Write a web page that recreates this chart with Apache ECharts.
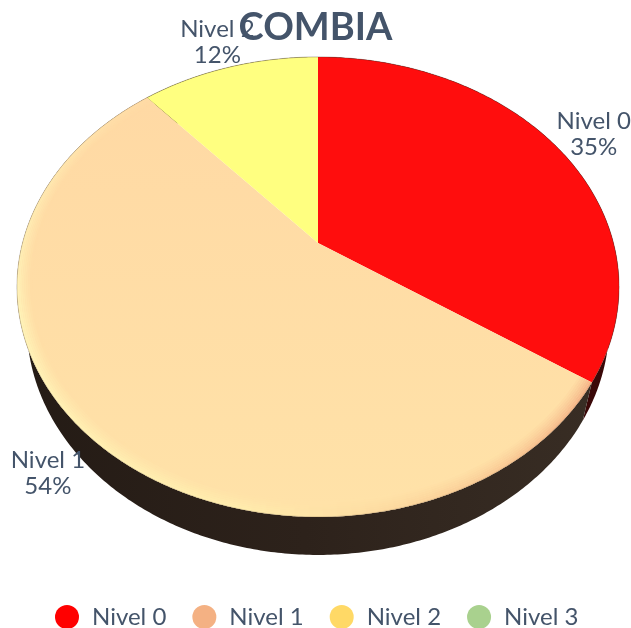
<!DOCTYPE html>
<html>
<head>
<meta charset="utf-8">
<style>
  html, body { margin: 0; padding: 0; background: #fff; overflow: hidden; }
  #chart { width: 631px; height: 628px; }
</style>
<script src="https://cdn.jsdelivr.net/npm/echarts@6/dist/echarts.min.js"></script>
</head>
<body>
<div id="chart"></div>
<script>
var chartTitle = "COMBIA";
var levels = ["Nivel 0", "Nivel 1", "Nivel 2", "Nivel 3"];
var shares = [34.5, 54, 11.5, 0];
var legendColors = ["#ff0000", "#f4b183", "#ffd966", "#a9d18e"];
var topColors = ["#ff0d0d", "#ffdba6", "#ffff80", "#a9d18e"];

var textColor = "#44546a";
var fontName = "Lato";

// perspective tilt of the disc, fitted to the picture
var apex = { x: 318, y: 243 };
var radX = 295.5;
var radY = 221.6;
var tilt = 0.191;
var depth = 38;
var sideShrink = 0.967;
var labelOffset = [[36, -14], [-42, 36], [-12, -25], [0, 0]];

// rim light of the big slice, by angle in degrees
var rimStops = [
  [124, [240, 165, 125]],
  [160, [250, 205, 150]],
  [190, [255, 240, 175]],
  [250, [255, 250, 190]],
  [285, [255, 238, 180]],
  [319, [255, 219, 166]]
];

function project(angle, r) {
  var x = Math.sin(angle) * r;
  var y = -Math.cos(angle) * r;
  var d = 1 - tilt * y;
  return [apex.x + radX * x / d, apex.y + radY * y / d];
}

function toSide(p) {
  return [apex.x + (p[0] - apex.x) * sideShrink, p[1] + depth];
}

function arc(a0, a1, r) {
  var pts = [];
  var n = Math.max(2, Math.ceil((a1 - a0) / 0.01));
  for (var i = 0; i <= n; i++) {
    pts.push(project(a0 + (a1 - a0) * i / n, r));
  }
  return pts;
}

function sliceAngles(idx) {
  var before = 0;
  for (var i = 0; i < idx; i++) before += shares[i];
  return [before / 100 * Math.PI * 2, (before + shares[idx]) / 100 * Math.PI * 2];
}

// same ramp as the body gradient of the big slice, so the bevel fades out into it
function bodyColor(y) {
  var t = Math.min(1, Math.max(0, (y - 98) / 419));
  return [255, 217 + 9 * t, 164 + 4 * t];
}

function rimColor(deg, fade, y) {
  var c = rimStops[rimStops.length - 1][1];
  for (var i = 0; i < rimStops.length - 1; i++) {
    var s0 = rimStops[i], s1 = rimStops[i + 1];
    if (deg <= s1[0]) {
      var t = Math.max(0, (deg - s0[0]) / (s1[0] - s0[0]));
      c = s0[1].map(function (v, j) { return v + (s1[1][j] - v) * t; });
      break;
    }
  }
  var base = bodyColor(y);
  return "rgb(" + c.map(function (v, j) { return Math.round(v + (base[j] - v) * fade); }).join(",") + ")";
}

function renderSide(params, api) {
  var idx = api.value(0);
  var a = sliceAngles(idx);
  var rim = arc(a[0], a[1], 1);
  var fill = idx === 0 ? "#3a0808" : new echarts.graphic.LinearGradient(0, 0, 1, 0, [
    { offset: 0, color: "#241b15" },
    { offset: 0.5, color: "#2d221b" },
    { offset: 1, color: "#382d24" }
  ]);
  return {
    type: "polygon",
    shape: { points: rim.concat(rim.map(toSide).reverse()) },
    style: { fill: fill }
  };
}

function renderTop(params, api) {
  var idx = api.value(0);
  var a = sliceAngles(idx);
  var kids = [];
  var center = [project(0, 0)];
  kids.push({
    type: "polygon",
    shape: { points: center.concat(arc(a[0], a[1], 1)) },
    style: {
      fill: idx === 1 ? new echarts.graphic.LinearGradient(0, 0, 0, 1, [
        { offset: 0, color: "#ffd9a4" },
        { offset: 1, color: "#ffe2a8" }
      ]) : topColors[idx]
    }
  });
  if (idx === 1) {
    // soft bevel on the rim of the big slice
    var rings = 8;
    var step = 0.04;
    for (var k = 0; k < rings; k++) {
      var r0 = 1 - k * 0.006;
      var r1 = r0 - 0.0065;
      for (var t = a[0]; t < a[1] - 1e-6; t += step) {
        var t1 = Math.min(t + step + 0.004, a[1]);
        var outer = arc(t, t1, r0), inner = arc(t, t1, r1);
        kids.push({
          type: "polygon",
          shape: { points: outer.concat(inner.reverse()) },
          style: { fill: rimColor(t * 180 / Math.PI, Math.pow((k + 1) / rings, 0.7), outer[0][1]) }
        });
      }
    }
  }
  kids.push({
    type: "polyline",
    shape: { points: arc(a[0], a[1], 1) },
    style: { fill: null, stroke: idx === 1 ? "rgba(60,40,30,0.3)" : "rgba(60,40,30,0.45)", lineWidth: 0.7 }
  });
  return { type: "group", children: kids };
}

function renderLabel(params, api) {
  var idx = api.value(0);
  var a = sliceAngles(idx);
  var p = project((a[0] + a[1]) / 2, 1);
  return {
    type: "text",
    style: {
      text: levels[idx] + "\n" + Math.round(shares[idx]) + "%",
      x: p[0] + labelOffset[idx][0],
      y: p[1] + labelOffset[idx][1],
      align: "center",
      verticalAlign: "middle",
      fill: textColor,
      font: "24px " + fontName,
      lineHeight: 26
    }
  };
}

var series = [
  {
    type: "custom",
    name: "lado",
    coordinateSystem: "none",
    silent: true,
    z: 1,
    renderItem: renderSide,
    data: [[0], [1], [2]]
  }
];
levels.forEach(function (name, i) {
  series.push({
    type: "custom",
    name: name,
    coordinateSystem: "none",
    silent: true,
    z: 2,
    itemStyle: { color: legendColors[i] },
    renderItem: renderTop,
    data: shares[i] > 0 ? [[i]] : []
  });
});
series.push({
  type: "custom",
  name: "etiquetas",
  coordinateSystem: "none",
  silent: true,
  z: 3,
  renderItem: renderLabel,
  data: [[0], [1], [2]]
});

var myChart = echarts.init(document.getElementById("chart"), null, { renderer: "canvas" });
myChart.setOption({
  animation: false,
  backgroundColor: "#fff",
  title: {
    text: chartTitle,
    left: "center",
    top: 4,
    z: 10,
    textStyle: { color: textColor, fontSize: 38, fontWeight: "bold", fontFamily: fontName }
  },
  legend: {
    data: levels,
    left: 55,
    top: 605,
    padding: 0,
    icon: "circle",
    itemWidth: 24,
    itemHeight: 24,
    itemGap: 26,
    selectedMode: false,
    textStyle: { color: textColor, fontSize: 24, fontFamily: fontName, padding: [0, 0, 0, 8] }
  },
  series: series
});
</script>
</body>
</html>
